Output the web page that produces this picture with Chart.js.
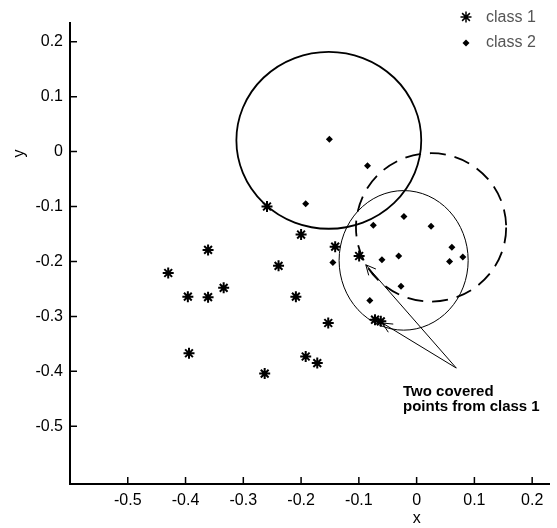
<!DOCTYPE html>
<html>
<head>
<meta charset="utf-8">
<script src="https://cdn.jsdelivr.net/npm/chart.js@4.4.1/dist/chart.umd.min.js"></script>
<style>
  html, body { margin: 0; padding: 0; background: #fff; }
  canvas { display: block; }
</style>
</head>
<body>
<canvas id="scatterChart" width="557" height="528"></canvas>
<script>
// class 1 (stars)
const class1X = [-0.259, -0.361, -0.430, -0.396, -0.361, -0.334, -0.394, -0.263, -0.239, -0.200,
                 -0.209, -0.153, -0.192, -0.172, -0.141, -0.0995, -0.072, -0.062];
const class1Y = [-0.100, -0.179, -0.221, -0.264, -0.265, -0.248, -0.367, -0.404, -0.208, -0.151,
                 -0.264, -0.312, -0.373, -0.385, -0.173, -0.190, -0.306, -0.309];

// class 2 (dots)
const class2X = [-0.151, -0.085, -0.192, -0.022, -0.075, 0.025, 0.061, 0.080, -0.031, -0.060,
                 0.057, -0.145, -0.027, -0.081];
const class2Y = [0.0225, -0.026, -0.095, -0.118, -0.134, -0.136, -0.174, -0.192, -0.190, -0.197,
                 -0.200, -0.202, -0.245, -0.271];

// tick labels
const xTicks = [-0.5, -0.4, -0.3, -0.2, -0.1, 0, 0.1, 0.2];
const yTicks = [-0.5, -0.4, -0.3, -0.2, -0.1, 0, 0.1, 0.2];

// circles: centre x, centre y, radius x, radius y (data units)
const circleCX = [-0.152, 0.025, -0.0225];
const circleCY = [0.0205, -0.138, -0.198];
const circleRX = [0.160, 0.130, 0.1117];
const circleRY = [0.161, 0.135, 0.127];

// annotation arrows: start (at text) and tips (the covered points)
const arrowFrom = [0.0687, -0.394];
const arrowTipX = [-0.088, -0.0594];
const arrowTipY = [-0.206, -0.312];

const toPoints = (xs, ys) => xs.map((x, i) => ({ x: x, y: ys[i] }));

const FONT = "'Liberation Sans', Arial, sans-serif";

const extrasPlugin = {
    id: 'extras',
    beforeDatasetsDraw(chart) {
        const ctx = chart.ctx;
        const xs = chart.scales.x, ys = chart.scales.y;
        ctx.save();
        ctx.strokeStyle = '#000';
        circleCX.forEach((cx, i) => {
            const px = xs.getPixelForValue(cx);
            const py = ys.getPixelForValue(circleCY[i]);
            const rx = Math.abs(xs.getPixelForValue(cx + circleRX[i]) - px);
            const ry = Math.abs(ys.getPixelForValue(circleCY[i] + circleRY[i]) - py);
            ctx.lineWidth = i === 2 ? 1 : 1.8;
            ctx.setLineDash(i === 1 ? [16, 9] : []);
            ctx.beginPath();
            ctx.ellipse(px, py, rx, ry, 0, 0, Math.PI * 2);
            ctx.stroke();
        });
        ctx.setLineDash([]);

        // arrows
        const fx = xs.getPixelForValue(arrowFrom[0]);
        const fy = ys.getPixelForValue(arrowFrom[1]);
        ctx.lineWidth = 1;
        arrowTipX.forEach((tx, i) => {
            const px = xs.getPixelForValue(tx);
            const py = ys.getPixelForValue(arrowTipY[i]);
            ctx.beginPath();
            ctx.moveTo(fx, fy);
            ctx.lineTo(px, py);
            const ang = Math.atan2(fy - py, fx - px);
            [-0.45, 0.45].forEach(d => {
                ctx.moveTo(px, py);
                ctx.lineTo(px + 11 * Math.cos(ang + d), py + 11 * Math.sin(ang + d));
            });
            ctx.stroke();
        });
        ctx.restore();
    },
    afterDraw(chart) {
        const ctx = chart.ctx;
        const xs = chart.scales.x, ys = chart.scales.y;
        const area = chart.chartArea;
        ctx.save();
        // inward tick marks
        ctx.strokeStyle = '#000';
        ctx.lineWidth = 1.5;
        ctx.beginPath();
        xs.ticks.forEach((t, i) => {
            const p = xs.getPixelForTick(i);
            ctx.moveTo(p, area.bottom);
            ctx.lineTo(p, area.bottom - 7);
        });
        ys.ticks.forEach((t, i) => {
            const p = ys.getPixelForTick(i);
            ctx.moveTo(area.left, p);
            ctx.lineTo(area.left + 7, p);
        });
        ctx.stroke();

        // axis titles
        ctx.fillStyle = '#000';
        ctx.font = '16px ' + FONT;
        ctx.textAlign = 'center';
        ctx.textBaseline = 'middle';
        ctx.fillText('x', xs.getPixelForValue(0), 519);
        ctx.save();
        ctx.translate(20, ys.getPixelForValue(0) + 2);
        ctx.rotate(-Math.PI / 2);
        ctx.fillText('y', 0, 0);
        ctx.restore();

        // annotation text
        ctx.font = 'bold 15px ' + FONT;
        ctx.textAlign = 'left';
        ctx.fillText('Two covered', 403, 392);
        ctx.fillText('points from class 1', 403, 407);

        // legend
        ctx.font = '16px ' + FONT;
        ctx.fillStyle = '#555';
        ctx.fillText('class 1', 486, 18);
        ctx.fillText('class 2', 486, 43);
        Chart.helpers.drawPoint(ctx, { pointStyle: 'star', radius: 5.5, borderWidth: 2 }, 466, 17);
        ctx.fillStyle = '#000';
        Chart.helpers.drawPoint(ctx, { pointStyle: 'rectRot', radius: 3.5, borderWidth: 0 }, 466, 43);
        ctx.restore();
    }
};

const axisFont = { family: FONT, size: 16 };

new Chart(document.getElementById('scatterChart'), {
    type: 'scatter',
    data: {
        datasets: [
            {
                label: 'class 1',
                data: toPoints(class1X, class1Y),
                pointStyle: 'star',
                radius: 5.5,
                borderWidth: 2,
                borderColor: '#000',
                backgroundColor: '#000'
            },
            {
                label: 'class 2',
                data: toPoints(class2X, class2Y),
                pointStyle: 'rectRot',
                radius: 3.5,
                borderWidth: 0,
                borderColor: '#000',
                backgroundColor: '#000'
            }
        ]
    },
    options: {
        responsive: false,
        animation: false,
        layout: { padding: { left: 0, top: 23, right: 1, bottom: 0 } },
        plugins: {
            legend: { display: false },
            tooltip: { enabled: false }
        },
        scales: {
            x: {
                type: 'linear',
                min: -0.6,
                max: 0.23,
                afterBuildTicks: (scale) => { scale.ticks = xTicks.map(v => ({ value: v })); },
                afterFit: (scale) => { scale.height = 44; },
                grid: { display: false, drawTicks: false },
                border: { display: true, color: '#000', width: 2 },
                ticks: { color: '#000', font: axisFont, padding: 7, maxRotation: 0, callback: (v) => String(v) }
            },
            y: {
                type: 'linear',
                min: -0.605,
                max: 0.234,
                afterBuildTicks: (scale) => { scale.ticks = yTicks.map(v => ({ value: v })); },
                afterFit: (scale) => { scale.width = 70; },
                grid: { display: false, drawTicks: false },
                border: { display: true, color: '#000', width: 2 },
                ticks: { color: '#000', font: axisFont, padding: 7, callback: (v) => String(v) }
            }
        }
    },
    plugins: [extrasPlugin]
});
</script>
</body>
</html>
